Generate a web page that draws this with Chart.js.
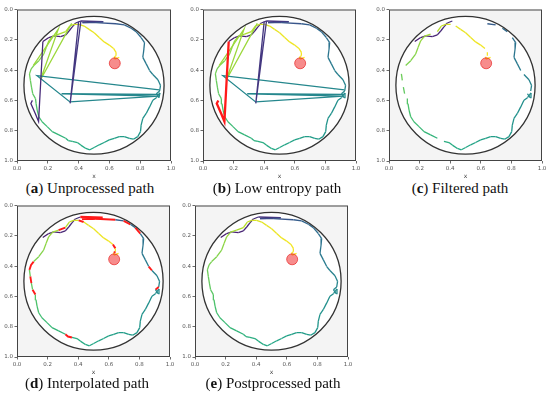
<!DOCTYPE html>
<html>
<head>
<meta charset="utf-8">
<script src="https://cdn.jsdelivr.net/npm/chart.js@4.4.1/dist/chart.umd.min.js"></script>
<style>
    body { margin: 0; background: #fff; width: 550px; height: 397px; position: relative; overflow: hidden; }
    canvas.panel { position: absolute; }
    .cap { position: absolute; font-family: "Liberation Serif", "DejaVu Serif", serif; font-size: 15px; line-height: 15px;
           white-space: nowrap; color: #111; transform: translateX(-50%); }
</style>
</head>
<body>
<canvas id="cA" class="panel"></canvas>
<canvas id="cB" class="panel"></canvas>
<canvas id="cC" class="panel"></canvas>
<canvas id="cD" class="panel"></canvas>
<canvas id="cE" class="panel"></canvas>
<div class="cap" style="left:90px;top:181px">(<b>a</b>) Unprocessed path</div>
<div class="cap" style="left:277px;top:181px">(<b>b</b>) Low entropy path</div>
<div class="cap" style="left:460px;top:181px">(<b>c</b>) Filtered path</div>
<div class="cap" style="left:87px;top:376px">(<b>d</b>) Interpolated path</div>
<div class="cap" style="left:273px;top:376px">(<b>e</b>) Postprocessed path</div>
<script>
// ---------- data ----------
const tickValues = [0.0, 0.2, 0.4, 0.6, 0.8, 1.0];

// cleaned trajectory, in order of time
const pathX = [0.168, 0.207, 0.240, 0.283, 0.316, 0.338, 0.359, 0.381, 0.414, 0.560,
               0.425, 0.512, 0.643, 0.697, 0.741, 0.773, 0.806, 0.828, 0.824, 0.817,
               0.839, 0.861, 0.882, 0.915, 0.932, 0.926, 0.905, 0.922, 0.928, 0.905,
               0.882, 0.861, 0.839, 0.817, 0.806, 0.802, 0.784, 0.756, 0.730, 0.697,
               0.664, 0.632, 0.599, 0.566, 0.534, 0.501, 0.473, 0.447, 0.414, 0.392,
               0.359, 0.333, 0.316, 0.272, 0.229, 0.196, 0.163, 0.142, 0.131, 0.124,
               0.120, 0.102, 0.094, 0.087, 0.081, 0.092, 0.109, 0.142, 0.174, 0.190,
               0.207, 0.233, 0.272, 0.316, 0.342, 0.370, 0.403, 0.436, 0.468, 0.501,
               0.534, 0.566, 0.599, 0.627, 0.643, 0.643, 0.632, 0.634, 0.664];
const pathY = [0.211, 0.185, 0.174, 0.179, 0.168, 0.142, 0.115, 0.089, 0.076, 0.081,
               0.087, 0.087, 0.094, 0.102, 0.124, 0.146, 0.185, 0.218, 0.261, 0.316,
               0.359, 0.403, 0.429, 0.464, 0.501, 0.538, 0.556, 0.582, 0.551, 0.582,
               0.599, 0.643, 0.686, 0.719, 0.763, 0.806, 0.839, 0.856, 0.850, 0.839,
               0.839, 0.850, 0.861, 0.878, 0.893, 0.911, 0.926, 0.917, 0.895, 0.878,
               0.871, 0.865, 0.850, 0.828, 0.806, 0.773, 0.741, 0.708, 0.664, 0.621,
               0.588, 0.556, 0.512, 0.468, 0.425, 0.392, 0.370, 0.338, 0.294, 0.251,
               0.207, 0.176, 0.163, 0.146, 0.109, 0.098, 0.098, 0.109, 0.131, 0.153,
               0.185, 0.214, 0.235, 0.257, 0.283, 0.305, 0.312, 0.327, 0.316];

// time (colormap value) at a few path indices
const timeKnotIdx = [0, 8, 9, 11, 14, 24, 35, 45, 52, 57, 63, 70, 74, 76, 79, 88];
const timeKnotVal = [0.08, 0.13, 0.16, 0.25, 0.34, 0.45, 0.52, 0.59, 0.64, 0.7, 0.77, 0.84, 0.9, 0.95, 0.97, 1.0];

// segments removed by the filter, later filled by interpolation
const gapSegs = [8, 9, 10, 11, 13, 15, 21, 25, 50, 51, 60, 62, 64, 65, 72, 76, 83, 85];
const thickSegs = [8, 9, 10];

// outlier jumps of the raw path
const jumpPurpleX = [0.168, 0.14, 0.12, 0.09, 0.10];
const jumpPurpleY = [0.211, 0.74, 0.69, 0.62, 0.60];
const jumpIndigoX = [0.40, 0.345, 0.415];
const jumpIndigoY = [0.08, 0.62, 0.075];
const jumpTealX = [0.924, 0.13, 0.344, 0.918, 0.29, 0.924];
const jumpTealY = [0.53, 0.437, 0.61, 0.572, 0.556, 0.56];
const jumpGreenX = [0.105, 0.268, 0.152, 0.355];
const jumpGreenY = [0.37, 0.13, 0.465, 0.092];

const goalX = 0.635, goalY = 0.355;
const ringCenter = [0.5, 0.5];
const ringRadius = 0.455;

// ---------- helpers ----------
const viridisStops = ['#440154', '#482475', '#414487', '#355f8d', '#2a788e', '#21918c',
                      '#22a884', '#44bf70', '#7ad151', '#bddf26', '#fde725'];

function hexRgb(h) {
    return [parseInt(h.slice(1, 3), 16), parseInt(h.slice(3, 5), 16), parseInt(h.slice(5, 7), 16)];
}

function viridis(t) {
    t = Math.max(0, Math.min(1, t));
    const p = t * (viridisStops.length - 1);
    const i = Math.min(Math.floor(p), viridisStops.length - 2);
    const f = p - i;
    const a = hexRgb(viridisStops[i]), b = hexRgb(viridisStops[i + 1]);
    return `rgb(${a.map((v, k) => Math.round(v + f * (b[k] - v))).join(',')})`;
}

function timeAt(i) {
    for (let k = 1; k < timeKnotIdx.length; k++) {
        if (i <= timeKnotIdx[k]) {
            const i0 = timeKnotIdx[k - 1], i1 = timeKnotIdx[k];
            const f = (i - i0) / (i1 - i0);
            return timeKnotVal[k - 1] + f * (timeKnotVal[k] - timeKnotVal[k - 1]);
        }
    }
    return 1;
}

const toPts = (xs, ys) => xs.map((x, i) => ({ x, y: ys[i] }));

const LW = 1.3;

function segColor(mode, i) {
    if (mode === 'filtered' && gapSegs.includes(i)) return 'rgba(0,0,0,0)';
    if (mode === 'interp' && gapSegs.includes(i)) return '#ff1a1a';
    return viridis(timeAt(i + 0.5));
}

function segWidth(mode, i) {
    if (mode === 'interp' && thickSegs.includes(i)) return 2.5;
    if (mode === 'interp' && gapSegs.includes(i)) return 1.9;
    return LW;
}

const panelDecor = {
    id: 'panelDecor',
    beforeDatasetsDraw(chart) {
        const { ctx, chartArea: a, scales: { x, y } } = chart;
        ctx.save();
        ctx.fillStyle = '#f4f4f4';
        ctx.fillRect(a.left, a.top, a.width, a.height);
        const cx = x.getPixelForValue(ringCenter[0]), cy = y.getPixelForValue(ringCenter[1]);
        const rx = Math.abs(x.getPixelForValue(ringRadius) - x.getPixelForValue(0));
        const ry = Math.abs(y.getPixelForValue(ringRadius) - y.getPixelForValue(0));
        ctx.beginPath();
        ctx.ellipse(cx, cy, rx, ry, 0, 0, Math.PI * 2);
        ctx.fillStyle = '#fff';
        ctx.fill();
        ctx.restore();
    },
    afterDatasetsDraw(chart) {
        const { ctx, chartArea: a, scales: { x, y } } = chart;
        ctx.save();
        const cx = x.getPixelForValue(ringCenter[0]), cy = y.getPixelForValue(ringCenter[1]);
        const rx = Math.abs(x.getPixelForValue(ringRadius) - x.getPixelForValue(0));
        const ry = Math.abs(y.getPixelForValue(ringRadius) - y.getPixelForValue(0));
        ctx.beginPath();
        ctx.ellipse(cx, cy, rx, ry, 0, 0, Math.PI * 2);
        ctx.strokeStyle = '#333';
        ctx.lineWidth = 1.3;
        ctx.stroke();
        ctx.strokeStyle = '#444';
        ctx.lineWidth = 1;
        ctx.strokeRect(a.left + 0.5, a.top + 0.5, a.width - 1, a.height - 1);
        ctx.restore();
    }
};

const Y_W = 22, X_H = 19, PAD_T = 6, PAD_R = 8;

function makePanel(id, L, T, W, H, mode) {
    const cv = document.getElementById(id);
    cv.width = W + Y_W + PAD_R;
    cv.height = H + PAD_T + X_H;
    cv.style.left = (L - Y_W) + 'px';
    cv.style.top = (T - PAD_T) + 'px';

    const datasets = [{
        data: [{ x: goalX, y: goalY }],
        pointRadius: 5.5,
        backgroundColor: 'rgba(240,45,45,0.55)',
        borderColor: 'rgba(225,0,0,0.55)',
        borderWidth: 1
    }];
    const lineDs = (pts, color, width) => ({
        data: pts, showLine: true, pointRadius: 0, borderColor: color, borderWidth: width, tension: 0
    });
    if (mode === 'raw' || mode === 'entropy') {
        datasets.push(mode === 'entropy'
            ? lineDs(toPts(jumpPurpleX, jumpPurpleY), '#ff1a1a', 2.3)
            : lineDs(toPts(jumpPurpleX, jumpPurpleY), viridis(0.12), LW));
        datasets.push(lineDs(toPts(jumpIndigoX, jumpIndigoY), viridis(0.16), LW));
        datasets.push(lineDs(toPts(jumpTealX, jumpTealY), viridis(0.46), LW));
        datasets.push(lineDs(toPts(jumpGreenX, jumpGreenY), viridis(0.85), LW));
    }
    datasets.push({
        data: toPts(pathX, pathY), showLine: true, pointRadius: 0, borderWidth: LW, tension: 0,
        borderColor: viridis(0.5),
        segment: {
            borderColor: ctx => segColor(mode, ctx.p0DataIndex),
            borderWidth: ctx => segWidth(mode, ctx.p0DataIndex)
        }
    });

    const axisCommon = {
        type: 'linear', min: 0, max: 1,
        afterBuildTicks: s => { s.ticks = tickValues.map(v => ({ value: v })); },
        ticks: { font: { family: 'DejaVu Sans', size: 5.5 }, color: '#555', padding: 1.5,
                 callback: v => v.toFixed(1), autoSkip: false, maxRotation: 0 },
        grid: { drawOnChartArea: false, drawTicks: true, tickLength: 2.5, color: '#444', lineWidth: 0.8 },
        border: { display: false }
    };

    new Chart(cv, {
        type: 'scatter',
        data: { datasets },
        options: {
            responsive: false,
            animation: false,
            events: [],
            layout: { padding: { top: PAD_T, right: PAD_R, left: 0, bottom: 0 } },
            plugins: { legend: { display: false }, tooltip: { enabled: false } },
            scales: {
                x: {
                    ...axisCommon,
                    position: 'bottom',
                    title: { display: true, text: 'x', font: { family: 'DejaVu Sans', size: 6 }, color: '#444', padding: 0 },
                    afterFit: s => { s.height = X_H; s.paddingLeft = 0; s.paddingRight = 0; }
                },
                y: {
                    ...axisCommon,
                    position: 'left',
                    reverse: true,
                    afterFit: s => { s.width = Y_W; s.paddingTop = 0; s.paddingBottom = 0; }
                }
            }
        },
        plugins: [panelDecor]
    });
}

makePanel('cA', 17, 9, 154, 152, 'raw');
makePanel('cB', 203, 9, 153, 152, 'entropy');
makePanel('cC', 389, 9, 153, 152, 'filtered');
makePanel('cD', 17, 205, 153, 152, 'interp');
makePanel('cE', 195, 205, 153, 152, 'post');
</script>
</body>
</html>
